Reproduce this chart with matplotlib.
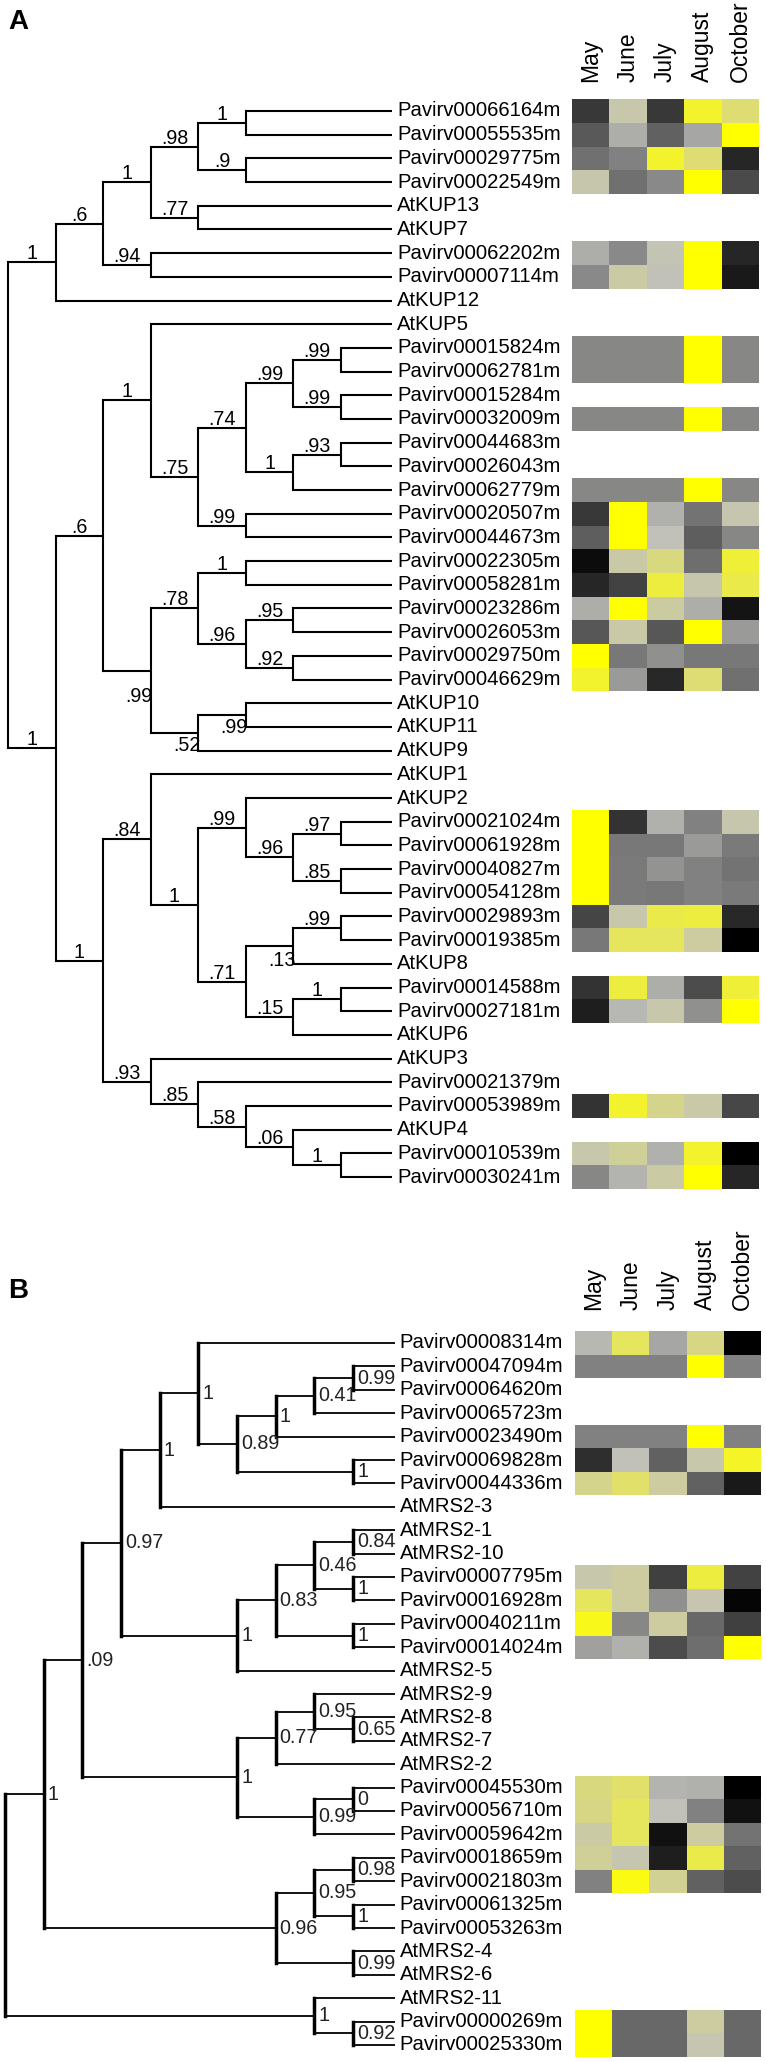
import matplotlib
matplotlib.use('Agg')
import matplotlib.pyplot as plt
import matplotlib.transforms as mtransforms
import numpy as np
from matplotlib.colors import LinearSegmentedColormap

plt.rcParams['font.family'] = ['Liberation Sans', 'DejaVu Sans']

# ---------------- data ----------------
MONTHS = ['May', 'June', 'July', 'August', 'October']

# Tree A (KUP family), Newick pieces with support values as node labels
A_D98 = "((Pavirv00066164m,Pavirv00055535m)1,(Pavirv00029775m,Pavirv00022549m).9).98"
A_N1A1 = "(" + A_D98 + ",(AtKUP13,AtKUP7).77)1"
A_N1A = "(" + A_N1A1 + ",(Pavirv00062202m,Pavirv00007114m).94).6"
A_N1 = "(" + A_N1A + ",AtKUP12)1"
A_C99 = "((Pavirv00015824m,Pavirv00062781m).99,(Pavirv00015284m,Pavirv00032009m).99).99"
A_C74 = "(" + A_C99 + ",((Pavirv00044683m,Pavirv00026043m).93,Pavirv00062779m)1).74"
A_C75 = "(" + A_C74 + ",(Pavirv00020507m,Pavirv00044673m).99).75"
A_N2A1 = "(AtKUP5," + A_C75 + ")1"
A_C78 = ("((Pavirv00022305m,Pavirv00058281m)1,((Pavirv00023286m,Pavirv00026053m).95,"
         "(Pavirv00029750m,Pavirv00046629m).92).96).78")
A_C52 = "((AtKUP10,AtKUP11).99,AtKUP9).52"
A_N2A2 = "(" + A_C78 + "," + A_C52 + ").99"
A_N2A = "(" + A_N2A1 + "," + A_N2A2 + ").6"
A_C99B = ("(AtKUP2,((Pavirv00021024m,Pavirv00061928m).97,"
          "(Pavirv00040827m,Pavirv00054128m).85).96).99")
A_C71 = ("(((Pavirv00029893m,Pavirv00019385m).99,AtKUP8).13,"
         "((Pavirv00014588m,Pavirv00027181m)1,AtKUP6).15).71")
A_C84 = "(AtKUP1,(" + A_C99B + "," + A_C71 + ")1).84"
A_C93 = ("(AtKUP3,(Pavirv00021379m,(Pavirv00053989m,(AtKUP4,"
         "(Pavirv00010539m,Pavirv00030241m)1).06).58).85).93")
A_N2B = "(" + A_C84 + "," + A_C93 + ")1"
A_N2 = "(" + A_N2A + "," + A_N2B + ")1"
TREE_A = "(" + A_N1 + "," + A_N2 + ");"

# Tree B (MRS2 family)
B_U1 = ("(Pavirv00008314m,((((Pavirv00047094m,Pavirv00064620m)0.99,Pavirv00065723m)0.41,"
        "Pavirv00023490m)1,(Pavirv00069828m,Pavirv00044336m)1)0.89)1")
B_W1 = "(" + B_U1 + ",AtMRS2-3)1"
B_V1 = ("((((AtMRS2-1,AtMRS2-10)0.84,(Pavirv00007795m,Pavirv00016928m)1)0.46,"
        "(Pavirv00040211m,Pavirv00014024m)1)0.83,AtMRS2-5)1")
B_X097 = "(" + B_W1 + "," + B_V1 + ")0.97"
B_Z1 = ("(((AtMRS2-9,(AtMRS2-8,AtMRS2-7)0.65)0.95,AtMRS2-2)0.77,"
        "((Pavirv00045530m,Pavirv00056710m)0,Pavirv00059642m)0.99)1")
B_X09 = "(" + B_X097 + "," + B_Z1 + ").09"
B_X096 = ("(((Pavirv00018659m,Pavirv00021803m)0.98,(Pavirv00061325m,Pavirv00053263m)1)0.95,"
          "(AtMRS2-4,AtMRS2-6)0.99)0.96")
B_X1 = "(" + B_X09 + "," + B_X096 + ")1"
B_Y = "(AtMRS2-11,(Pavirv00000269m,Pavirv00025330m)0.92)1"
TREE_B = "(" + B_X1 + "," + B_Y + ");"

# relative expression (0 = lowest / black, 1 = highest / yellow)
HEAT_A = {
    'Pavirv00066164m': [0.22, 0.76, 0.22, 0.95, 0.87],
    'Pavirv00055535m': [0.35, 0.64, 0.38, 0.62, 1.00],
    'Pavirv00029775m': [0.44, 0.50, 0.95, 0.87, 0.15],
    'Pavirv00022549m': [0.75, 0.44, 0.53, 1.00, 0.29],
    'Pavirv00062202m': [0.64, 0.53, 0.73, 1.00, 0.15],
    'Pavirv00007114m': [0.53, 0.78, 0.71, 1.00, 0.10],
    'Pavirv00015824m': [0.52, 0.52, 0.52, 1.00, 0.52],
    'Pavirv00062781m': [0.52, 0.52, 0.52, 1.00, 0.52],
    'Pavirv00032009m': [0.52, 0.52, 0.52, 1.00, 0.52],
    'Pavirv00062779m': [0.52, 0.52, 0.52, 1.00, 0.52],
    'Pavirv00020507m': [0.22, 1.00, 0.65, 0.45, 0.74],
    'Pavirv00044673m': [0.37, 1.00, 0.71, 0.37, 0.52],
    'Pavirv00022305m': [0.05, 0.77, 0.85, 0.43, 0.94],
    'Pavirv00058281m': [0.15, 0.26, 0.93, 0.75, 0.92],
    'Pavirv00023286m': [0.64, 1.00, 0.79, 0.64, 0.08],
    'Pavirv00026053m': [0.34, 0.77, 0.34, 1.00, 0.58],
    'Pavirv00029750m': [1.00, 0.47, 0.55, 0.47, 0.47],
    'Pavirv00046629m': [0.95, 0.58, 0.16, 0.87, 0.44],
    'Pavirv00021024m': [1.00, 0.20, 0.65, 0.50, 0.75],
    'Pavirv00061928m': [1.00, 0.47, 0.47, 0.58, 0.48],
    'Pavirv00040827m': [1.00, 0.48, 0.56, 0.50, 0.45],
    'Pavirv00054128m': [1.00, 0.48, 0.47, 0.50, 0.48],
    'Pavirv00029893m': [0.27, 0.76, 0.92, 0.93, 0.16],
    'Pavirv00019385m': [0.47, 0.90, 0.90, 0.80, 0.00],
    'Pavirv00014588m': [0.20, 0.93, 0.64, 0.30, 0.94],
    'Pavirv00027181m': [0.12, 0.67, 0.76, 0.55, 1.00],
    'Pavirv00053989m': [0.20, 0.95, 0.83, 0.77, 0.28],
    'Pavirv00010539m': [0.76, 0.81, 0.65, 0.95, 0.00],
    'Pavirv00030241m': [0.52, 0.66, 0.78, 1.00, 0.15],
}

HEAT_B = {
    'Pavirv00008314m': [0.67, 0.90, 0.62, 0.84, 0.00],
    'Pavirv00047094m': [0.50, 0.50, 0.50, 1.00, 0.50],
    'Pavirv00023490m': [0.50, 0.50, 0.50, 1.00, 0.50],
    'Pavirv00069828m': [0.18, 0.71, 0.38, 0.76, 0.96],
    'Pavirv00044336m': [0.83, 0.88, 0.80, 0.38, 0.10],
    'Pavirv00007795m': [0.76, 0.80, 0.25, 0.93, 0.26],
    'Pavirv00016928m': [0.90, 0.80, 0.55, 0.74, 0.02],
    'Pavirv00040211m': [0.97, 0.52, 0.80, 0.41, 0.25],
    'Pavirv00014024m': [0.60, 0.65, 0.30, 0.43, 1.00],
    'Pavirv00045530m': [0.85, 0.88, 0.66, 0.65, 0.00],
    'Pavirv00056710m': [0.84, 0.90, 0.71, 0.50, 0.07],
    'Pavirv00059642m': [0.78, 0.90, 0.07, 0.80, 0.45],
    'Pavirv00018659m': [0.81, 0.74, 0.12, 0.92, 0.38],
    'Pavirv00021803m': [0.50, 0.98, 0.82, 0.38, 0.30],
    'Pavirv00000269m': [1.00, 0.41, 0.41, 0.80, 0.41],
    'Pavirv00025330m': [1.00, 0.41, 0.41, 0.74, 0.41],
}

# support labels drawn below their branch (node identified by first/last leaf): pixel offset
BELOW_A = {
    ('Pavirv00022305m', 'AtKUP9'): 16,
    ('AtKUP10', 'AtKUP9'): 3,
    ('AtKUP10', 'AtKUP11'): 3,
    ('Pavirv00029893m', 'AtKUP8'): 5,
}

# ---------------- helpers ----------------
W, H = 766, 2062
fig = plt.figure(figsize=(W / 100, H / 100), dpi=100)
fig.patch.set_facecolor('white')

FS_LEAF = 14.6
FS_SUPPORT = 14.2
FS_MONTH = 16.5
FS_LETTER = 20


def parse_newick(s):
    pos = 0

    def parse():
        nonlocal pos
        node = {'children': [], 'name': ''}
        if s[pos] == '(':
            pos += 1
            while True:
                node['children'].append(parse())
                ch = s[pos]
                if ch == ',':
                    pos += 1
                elif ch == ')':
                    pos += 1
                    break
                else:
                    raise ValueError('bad newick at %d: %r' % (pos, ch))
        start = pos
        while pos < len(s) and s[pos] not in ',();':
            pos += 1
        node['name'] = s[start:pos]
        return node

    tree = parse()
    if s[pos] != ';':
        raise ValueError('unbalanced newick')
    return tree


def layout(root, mode):
    leaves = []

    def assign(n, depth):
        n['depth'] = depth
        if not n['children']:
            n['y'] = len(leaves)
            leaves.append(n['name'])
            n['height'] = 0
            n['span'] = (n['name'], n['name'])
        else:
            for c in n['children']:
                assign(c, depth + 1)
            n['y'] = (n['children'][0]['y'] + n['children'][-1]['y']) / 2
            n['height'] = 1 + max(c['height'] for c in n['children'])
            n['span'] = (n['children'][0]['span'][0], n['children'][-1]['span'][1])

    assign(root, 0)
    top = root['height']

    def setx(n):
        if not n['children']:
            n['x'] = top + 0.08
        elif mode == 'depth':
            n['x'] = n['depth']
        else:
            n['x'] = top - n['height']
        for c in n['children']:
            setx(c)

    setx(root)
    return leaves


def px_axes(x0, y0, x1, y1):
    return fig.add_axes([x0 / W, 1 - y1 / H, (x1 - x0) / W, (y1 - y0) / H])


cmap = LinearSegmentedColormap.from_list(
    'blackgrayyellow',
    [(0.0, '#000000'), (0.5, '#808080'), (0.7, '#c0c0bc'),
     (0.8, '#cccca0'), (0.9, '#e4e460'), (1.0, '#ffff00')])


def draw_panel(tree_str, heat, style, x_root, x_step, y_first, y_step,
               heat_x0, heat_x1, month_pad, letter, letter_y):
    root = parse_newick(tree_str)
    leaves = layout(root, style)
    n = len(leaves)
    y0 = y_first - 0.5 * y_step
    y1 = y_first + (n - 0.5) * y_step
    ax = px_axes(0, y0, 400, y1)
    ax.set_xlim(-x_root / x_step, (400 - x_root) / x_step)
    ax.set_ylim(n - 0.5, -0.5)
    ax.axis('off')

    lw_h = 1.5 if style == 'depth' else 1.3
    lw_v = 1.5 if style == 'depth' else 2.5
    lab_off = mtransforms.offset_copy(ax.transData, fig=fig, x=5, y=0, units='dots')

    def draw(nd, parent):
        if nd['children']:
            ys = [c['y'] for c in nd['children']]
            ax.plot([nd['x'], nd['x']], [min(ys), max(ys)], color='black',
                    lw=lw_v, solid_capstyle='projecting', zorder=3)
            for c in nd['children']:
                ax.plot([nd['x'], c['x']], [c['y'], c['y']], color='black',
                        lw=lw_h, solid_capstyle='butt', zorder=3)
                draw(c, nd)
            if nd['name'] and parent is not None:
                if style == 'depth':
                    if nd['span'] in BELOW_A:
                        off = BELOW_A[nd['span']]
                        tr = mtransforms.offset_copy(ax.transData, fig=fig, x=2, y=-off, units='dots')
                        ax.text(nd['x'], nd['y'], nd['name'], transform=tr,
                                ha='right', va='top', fontsize=FS_SUPPORT, zorder=4)
                    else:
                        tr = mtransforms.offset_copy(ax.transData, fig=fig, x=0, y=3, units='dots')
                        ax.text((parent['x'] + nd['x']) / 2, nd['y'], nd['name'],
                                transform=tr, ha='center', va='baseline',
                                fontsize=FS_SUPPORT, zorder=4)
                else:
                    tr = mtransforms.offset_copy(ax.transData, fig=fig, x=4, y=0, units='dots')
                    ax.text(nd['x'], nd['y'], nd['name'], transform=tr,
                            ha='left', va='center', fontsize=FS_SUPPORT,
                            color='#222222', zorder=4)
        else:
            ax.text(nd['x'], nd['y'], nd['name'], transform=lab_off,
                    ha='left', va='center', fontsize=FS_LEAF, zorder=4)

    draw(root, None)

    hx = px_axes(heat_x0, y0, heat_x1, y1)
    vals = np.array([heat.get(name, [np.nan] * len(MONTHS)) for name in leaves], dtype=float)
    hx.pcolormesh(np.arange(len(MONTHS) + 1), np.arange(n + 1) - 0.5,
                  np.ma.masked_invalid(vals), cmap=cmap, vmin=0, vmax=1)
    hx.set_xlim(0, len(MONTHS))
    hx.set_ylim(n - 0.5, -0.5)
    hx.xaxis.tick_top()
    hx.set_xticks(np.arange(len(MONTHS)) + 0.5)
    hx.set_xticklabels(MONTHS, rotation=90, fontsize=FS_MONTH)
    hx.tick_params(axis='x', length=0, pad=month_pad)
    hx.set_yticks([])
    for sp in hx.spines.values():
        sp.set_visible(False)

    fig.text(8 / W, 1 - letter_y / H, letter, fontsize=FS_LETTER, fontweight='bold',
             ha='left', va='top')


draw_panel(TREE_A, HEAT_A, 'depth', x_root=8, x_step=47.57, y_first=111, y_step=23.69,
           heat_x0=572, heat_x1=759, month_pad=12, letter='A', letter_y=9)
draw_panel(TREE_B, HEAT_B, 'height', x_root=5, x_step=38.67, y_first=1343, y_step=23.4,
           heat_x0=575, heat_x1=761, month_pad=15, letter='B', letter_y=1278)

fig.savefig('out.png', dpi=100, facecolor='white')
